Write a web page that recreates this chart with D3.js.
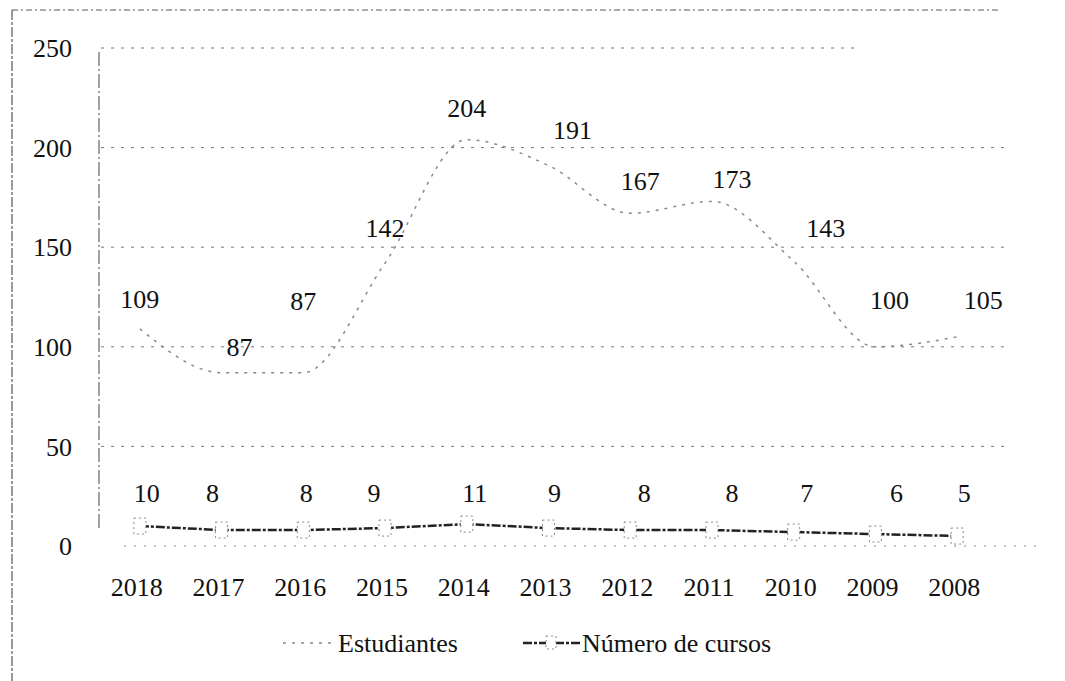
<!doctype html>
<html>
<head>
    <meta charset="utf-8">
    <style>
        body { margin: 0; background: #fff; }
        text {
            font-family: 'Liberation Serif', 'DejaVu Serif', serif;
            font-size: 26px;
            fill: #111;
        }
    </style>
    <script src="https://d3js.org/d3.v7.min.js"></script>
</head>
<body>
    <script>
        // data
        var years = ["2018", "2017", "2016", "2015", "2014", "2013", "2012", "2011", "2010", "2009", "2008"];
        var estudiantes = [109, 87, 87, 142, 204, 191, 167, 173, 143, 100, 105];
        var cursos = [10, 8, 8, 9, 11, 9, 8, 8, 7, 6, 5];
        var yTicks = [0, 50, 100, 150, 200, 250];
        var seriesNames = ["Estudiantes", "Número de cursos"];

        // label nudges (dx, dy) for the Estudiantes values, as placed in the original
        var estLabelNudge = [[0, -30], [18, -26], [0, -72], [0, -35], [0, -32], [24, -36], [10, -32], [20, -22], [32, -33], [14, -47], [26, -37]];
        // horizontal nudges for the cursos labels (they sit on one row)
        var curLabelDx = [7, -9, 3, -11, 8, 6, 14, 20, 13, 21, 7];

        var W = 1065, H = 681;
        var margin = { left: 99, right: 67, top: 48, bottom: 135 };

        var svg = d3.select("body").append("svg").attr("width", W).attr("height", H);

        // scanned frame (top and left edge only survive)
        svg.append("line").attr("x1", 12).attr("x2", 1000).attr("y1", 10).attr("y2", 10)
            .attr("stroke", "#555").attr("stroke-dasharray", "6,3,2,3");
        svg.append("line").attr("x1", 12).attr("x2", 12).attr("y1", 10).attr("y2", H)
            .attr("stroke", "#333").attr("stroke-dasharray", "10,2,3,2");

        var x = d3.scaleBand().domain(years)
            .range([margin.left, W - margin.right]);
        var y = d3.scaleLinear().domain([0, 250])
            .range([546, 48]);

        // grid lines
        svg.append("g").selectAll("line").data(yTicks.filter(d => d > 0)).join("line")
            .attr("x1", margin.left + 2).attr("x2", d => d === 250 ? 860 : W - margin.right + 12)
            .attr("y1", d => y(d)).attr("y2", d => y(d))
            .attr("stroke", "#777").attr("stroke-width", 1)
            .attr("stroke-dasharray", "3,7");

        // y axis line
        svg.append("line").attr("x1", margin.left).attr("x2", margin.left)
            .attr("y1", y(250) + 4).attr("y2", y(0) - 16)
            .attr("stroke", "#444").attr("stroke-dasharray", "14,3,2,3");

        // baseline
        svg.append("line").attr("x1", margin.left + 25).attr("x2", W - margin.right + 40)
            .attr("y1", y(0)).attr("y2", y(0))
            .attr("stroke", "#888").attr("stroke-dasharray", "2,8");

        // y tick labels
        svg.append("g").selectAll("text").data(yTicks).join("text")
            .attr("x", 72).attr("y", d => y(d))
            .attr("dy", "0.35em").attr("text-anchor", "end")
            .text(d => d);

        // x tick labels
        svg.append("g").selectAll("text").data(years).join("text")
            .attr("x", d => x(d) + x.bandwidth() / 2 - 3).attr("y", 587)
            .attr("dy", "0.35em").attr("text-anchor", "middle")
            .text(d => d);

        var cx = (d, i) => x(years[i]) + x.bandwidth() / 2;

        // Estudiantes line
        var lineEst = d3.line().x(cx).y(d => y(d)).curve(d3.curveMonotoneX);
        svg.append("path").datum(estudiantes)
            .attr("d", lineEst).attr("fill", "none")
            .attr("stroke", "#888").attr("stroke-width", 1.5)
            .attr("stroke-dasharray", "3,6");

        // Número de cursos line
        var lineCur = d3.line().x(cx).y(d => y(d));
        svg.append("path").datum(cursos)
            .attr("d", lineCur).attr("fill", "none")
            .attr("stroke", "#222").attr("stroke-width", 2.5)
            .attr("stroke-dasharray", "9,2,3,2");
        svg.append("g").selectAll("rect").data(cursos).join("rect")
            .attr("x", (d, i) => cx(d, i) - 6).attr("y", d => y(d) - 8)
            .attr("width", 12).attr("height", 16)
            .attr("fill", "#fff").attr("stroke", "#888").attr("stroke-width", 1)
            .attr("stroke-dasharray", "2,3");

        // value labels
        svg.append("g").selectAll("text").data(estudiantes).join("text")
            .attr("x", (d, i) => cx(d, i) + estLabelNudge[i][0])
            .attr("y", (d, i) => y(d) + estLabelNudge[i][1])
            .attr("dy", "0.35em").attr("text-anchor", "middle")
            .text(d => d);
        svg.append("g").selectAll("text").data(cursos).join("text")
            .attr("x", (d, i) => cx(d, i) + curLabelDx[i]).attr("y", y(0) - 53)
            .attr("dy", "0.35em").attr("text-anchor", "middle")
            .text(d => d);

        // legend
        var legend = svg.append("g");
        legend.append("line").attr("x1", 283).attr("x2", 337).attr("y1", 643).attr("y2", 643)
            .attr("stroke", "#888").attr("stroke-width", 1.5).attr("stroke-dasharray", "3,6");
        legend.append("text").attr("x", 338).attr("y", 643).attr("dy", "0.35em").text(seriesNames[0]);
        legend.append("line").attr("x1", 523).attr("x2", 581).attr("y1", 643).attr("y2", 643)
            .attr("stroke", "#222").attr("stroke-width", 2.5).attr("stroke-dasharray", "9,2,3,2");
        legend.append("rect").attr("x", 546).attr("y", 636).attr("width", 10).attr("height", 13)
            .attr("fill", "#fff").attr("stroke", "#888").attr("stroke-dasharray", "2,3");
        legend.append("text").attr("x", 582).attr("y", 643).attr("dy", "0.35em").text(seriesNames[1]);
    </script>
</body>
</html>
